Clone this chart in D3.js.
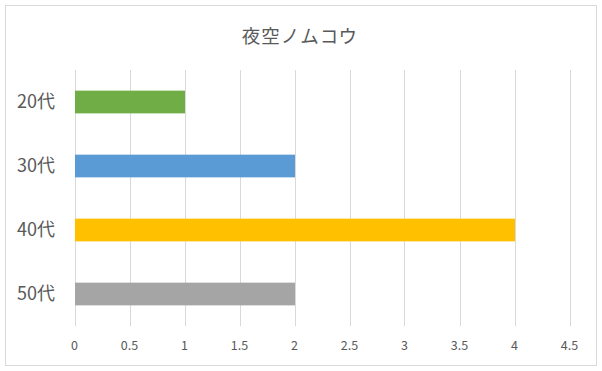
<!DOCTYPE html>
<html>
<head>
<meta charset="utf-8">
<script src="https://cdn.jsdelivr.net/npm/d3@7"></script>
<style>
  body { margin: 0; background: #fff; }
  text { font-family: "Noto Sans CJK JP", "Noto Sans", sans-serif; fill: #595959; }
</style>
</head>
<body>
<svg width="602" height="371"></svg>
<script>
// data
const categories = ["20代", "30代", "40代", "50代"];
const values = [1, 2, 4, 2];
const colors = ["#70ad47", "#5b9bd5", "#ffc000", "#a5a5a5"];
const xTicks = [0, 0.5, 1, 1.5, 2, 2.5, 3, 3.5, 4, 4.5];
const title = "夜空ノムコウ";

const svg = d3.select("svg");

// chart border
svg.append("rect")
  .attr("x", 5.5).attr("y", 5.5)
  .attr("width", 591).attr("height", 360)
  .attr("fill", "#fff")
  .attr("stroke", "#d9d9d9");

const x = d3.scaleLinear().domain([0, 4.5]).range([74.5, 569.5]);
const y = d3.scaleBand().domain(categories).range([70, 326])
  .paddingInner(0.645).paddingOuter(0.3225);

// gridlines
svg.append("g").selectAll("line")
  .data(xTicks)
  .enter().append("line")
    .attr("x1", d => Math.round(x(d)) + 0.5)
    .attr("x2", d => Math.round(x(d)) + 0.5)
    .attr("y1", 70).attr("y2", 326)
    .attr("stroke", "#d9d9d9");

// bars
svg.append("g").selectAll("rect")
  .data(values)
  .enter().append("rect")
    .attr("x", x(0) + 0.5)
    .attr("y", (d, i) => y(categories[i]))
    .attr("width", d => x(d) - x(0))
    .attr("height", y.bandwidth())
    .attr("fill", (d, i) => colors[i]);

// x tick labels
svg.append("g").selectAll("text")
  .data(xTicks)
  .enter().append("text")
    .attr("x", d => x(d))
    .attr("y", 350)
    .attr("text-anchor", "middle")
    .style("font-size", "12.5px")
    .text(d => d);

// category labels
svg.append("g").selectAll("text")
  .data(categories)
  .enter().append("text")
    .attr("x", 55)
    .attr("y", d => y(d) + y.bandwidth() / 2)
    .attr("dy", ".35em")
    .attr("text-anchor", "end")
    .style("font-size", "18px")
    .text(d => d);

// title
svg.append("text")
  .attr("x", 300)
  .attr("y", 43)
  .attr("text-anchor", "middle")
  .style("font-size", "18.5px")
  .style("letter-spacing", "1px")
  .text(title);
</script>
</body>
</html>
